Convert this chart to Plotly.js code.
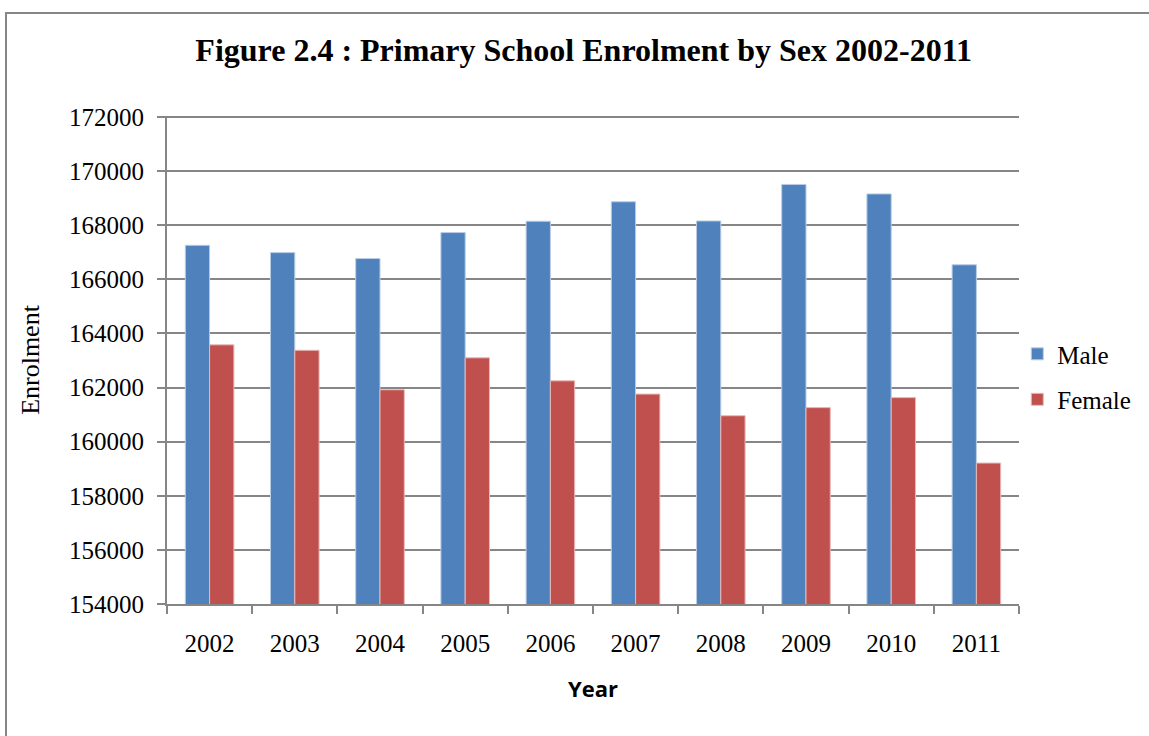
<!DOCTYPE html>
<html>
<head>
<meta charset="utf-8">
<script src="https://cdn.plot.ly/plotly-3.0.1.min.js"></script>
<style>
html,body{margin:0;padding:0;background:#fff;}
#chart{width:1149px;height:736px;}
</style>
</head>
<body>
<div id="chart"></div>
<script>
const years = ["2002","2003","2004","2005","2006","2007","2008","2009","2010","2011"];
const male = [167260,166990,166770,167730,168150,168870,168160,169510,169160,166540];
const female = [163580,163380,161920,163100,162250,161760,160960,161260,161630,159210];
const yTicks = [154000,156000,158000,160000,162000,164000,166000,168000,170000,172000];

const serif = "Liberation Serif, Times New Roman, serif";
const grid = "#868686";

const traces = [
  {type:"bar", name:"Male", x:years, y:male, legendgroup:"m",
   marker:{color:"#4F81BD", line:{color:"#B9CDE5", width:1}}},
  {type:"bar", name:"Female", x:years, y:female, legendgroup:"f",
   marker:{color:"#C0504D", line:{color:"#E6B9B8", width:1}}}
];

const layout = {
  width:1149, height:736,
  margin:{l:167, r:130, t:116, b:132},
  paper_bgcolor:"#fff", plot_bgcolor:"#fff",
  barmode:"group", bargap:0.43, bargroupgap:0,
  showlegend:true,
  title:{text:"<b>Figure 2.4 : Primary School Enrolment by Sex 2002-2011</b>",
         font:{family:serif, size:32, color:"#000"},
         x:0.489, xref:"paper", xanchor:"center", y:0.932, yref:"container", yanchor:"middle"},
  xaxis:{type:"category", showline:true, linecolor:grid, linewidth:2,
         ticks:"outside", tickson:"boundaries", ticklen:8, tickcolor:grid, tickwidth:2,
         ticklabelstandoff:16,
         tickfont:{family:serif, size:25, color:"#000"},
         title:{text:"<b>Year</b>", font:{family:"Open Sans, sans-serif", size:22, color:"#000"}, standoff:26},
         showgrid:false, zeroline:false},
  yaxis:{range:[154000,172040], tickvals:yTicks, ticktext:yTicks.map(String),
         showline:true, linecolor:grid, linewidth:2,
         ticks:"outside", ticklen:8, tickcolor:grid, tickwidth:2,
         ticklabelstandoff:8,
         showgrid:true, gridcolor:grid, gridwidth:2, zeroline:false,
         tickfont:{family:serif, size:25, color:"#000"},
         title:{text:"Enrolment", font:{family:serif, size:26, color:"#000"}, standoff:22}},
  legend:{x:0.998, xanchor:"left", y:0.466, yanchor:"middle",
          font:{family:serif, size:25, color:"#000"},
          traceorder:"grouped", tracegroupgap:10, itemwidth:30, bgcolor:"rgba(0,0,0,0)"},
  shapes:[{type:"rect", xref:"paper", yref:"paper",
           x0:(6-167)/852, x1:(1160-167)/852, y0:(604-745)/488, y1:(604-13)/488,
           line:{color:grid, width:2}, fillcolor:"rgba(0,0,0,0)", layer:"below"}]
};

Plotly.newPlot("chart", traces, layout, {displayModeBar:false, staticPlot:true});
</script>
</body>
</html>
